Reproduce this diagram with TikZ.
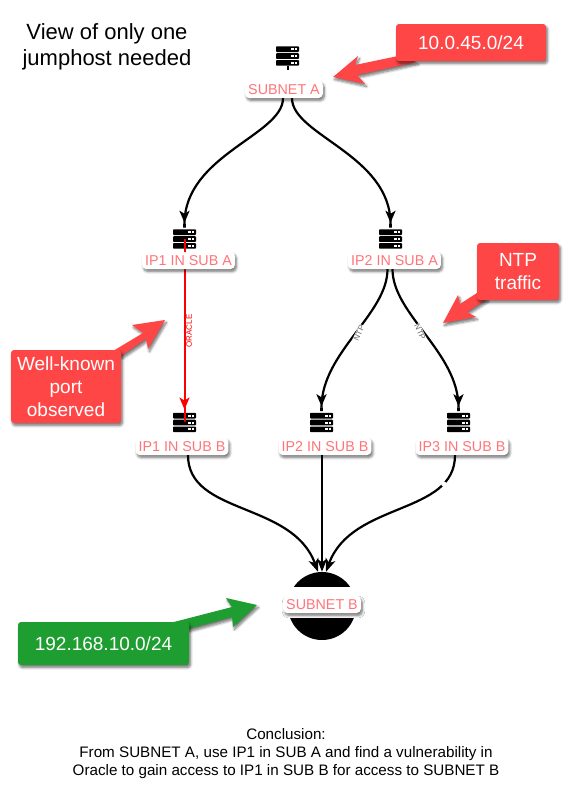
\documentclass[tikz,border=0pt]{standalone}
\usepackage{fontspec}
\setmainfont{Liberation Sans}
\usepackage{tikz}
\usetikzlibrary{arrows.meta,shadows.blur}
\definecolor{calloutred}{HTML}{FF4646}
\definecolor{calloutgreen}{HTML}{1E9E30}
\definecolor{labelpink}{HTML}{FF7478}
\definecolor{smallgray}{HTML}{666666}

\begin{document}
\begin{tikzpicture}[x=1pt,y=-1pt,
	softshadow/.style={blur shadow={shadow xshift=1.5pt,shadow yshift=-2.5pt,shadow blur radius=2.5pt,shadow blur steps=6,shadow opacity=55}},
	hostlabel/.style={fill=white,rounded corners=4pt,text=labelpink,inner xsep=3pt,inner ysep=3pt,font=\fontsize{14.3}{14}\selectfont,text height=10pt,text depth=1pt,softshadow},
	hosticon/.style={minimum width=23pt,minimum height=20pt,inner sep=0pt,
		path picture={
			\foreach \barpos in {-6.8,0,6.8}{
				\fill[black,rounded corners=.8pt] ([yshift=\barpos pt-2.8pt]path picture bounding box.west) rectangle ([yshift=\barpos pt+2.8pt]path picture bounding box.east);
				\fill[white] ([xshift=-8pt,yshift=\barpos pt-1pt]path picture bounding box.east) rectangle ([xshift=-5.5pt,yshift=\barpos pt+1pt]path picture bounding box.east);
				\fill[white] ([xshift=-4.5pt,yshift=\barpos pt-1pt]path picture bounding box.east) rectangle ([xshift=-2pt,yshift=\barpos pt+1pt]path picture bounding box.east);
			}
		}},
	flow/.style={draw=black,line width=2.2pt,-{Stealth[length=12pt,width=10pt,inset=3pt]Rectangle[length=6pt,width=2.2pt]}},
	flowend/.style={draw=black,line width=2.2pt,-{Stealth[length=13pt,width=10pt,inset=3.5pt]}},
	callout/.style={fill=#1,softshadow},
	calloutbox/.style={fill=#1,rounded corners=3pt,text=white,align=center,font=\fontsize{19}{22.8}\selectfont,inner sep=0pt,softshadow},
	portlabel/.style={font=\fontsize{8}{8}\selectfont,inner sep=.5pt}
]
	\useasboundingbox (0,0) rectangle (568,801);

	\node[align=center,font=\fontsize{22}{26}\selectfont] (viewnote) at (107,47) {View of only one\\jumphost needed};

	% hosts
	\foreach \hostname/\hostx/\hosty in {subA/287.5/56,ipOneA/184.5/239,ipTwoA/390.5/239,ipOneB/184.5/422.5,ipTwoB/321.5/422.5,ipThreeB/458.5/422.5}
		\node[hosticon] (\hostname) at (\hostx,\hosty) {};
	\draw[line width=2pt] (subA.south) -- +(0,4);
	\node[circle,fill=black,minimum size=68pt,inner sep=0pt] (subB) at (322,606) {};
	\fill[white] (270,587) rectangle (375,618);
	\draw[red,line width=2pt,-{Stealth[length=12pt,width=10pt,inset=3pt]Rectangle[length=13pt,width=2pt]}] (ipOneA.center) -- (ipOneB.center);

	% labels, placed by hand
	\node[hostlabel] (subAtxt) at (284,89.5) {SUBNET A};
	\node[hostlabel] (ipOneAtxt) at (188.5,260.5) {IP1 IN SUB A};
	\node[hostlabel] (ipTwoAtxt) at (394.5,260.5) {IP2 IN SUB A};
	\node[hostlabel] (ipOneBtxt) at (182,446.5) {IP1 IN SUB B};
	\node[hostlabel] (ipTwoBtxt) at (325,446.5) {IP2 IN SUB B};
	\node[hostlabel] (ipThreeBtxt) at (462,446.5) {IP3 IN SUB B};
	\node[hostlabel] (subBtxt) at (322,604.5) {SUBNET B};

	% connectors
	\draw[flow] ([xshift=-1pt]subAtxt.south) to[out=-90,in=90,out distance=37pt,in distance=74pt] (ipOneA.north);
	\draw[flow] ([xshift=8pt]subAtxt.south) to[out=-90,in=90,out distance=37pt,in distance=74pt] (ipTwoA.north);
	\draw[flow] ([xshift=-7pt]ipTwoAtxt.south) to[out=-90,in=90,out distance=45pt,in distance=60pt] (ipTwoB.north);
	\draw[flow] ([xshift=-2pt]ipTwoAtxt.south) to[out=-90,in=90,out distance=45pt,in distance=60pt] (ipThreeB.north);
	\draw[flowend] ([xshift=6pt]ipOneBtxt.south) to[out=-90,in=110,out distance=60pt,in distance=75pt] ([xshift=-4pt]subB.north);
	\draw[flowend] ([xshift=-3pt]ipTwoBtxt.south) -- (subB.north);
	\draw[flowend] ([xshift=-7pt]ipThreeBtxt.south) to[out=-90,in=70,out distance=60pt,in distance=75pt] ([xshift=4pt]subB.north);
	\fill[white] (443.8,484) circle (2.6);

	% edge labels
	\node[portlabel,text=red,rotate=90] (oracletxt) at (189,331) {ORACLE};
	\node[portlabel,text=smallgray,rotate=65,fill=white] (ntpleft) at (359,333) {NTP};
	\node[portlabel,text=smallgray,rotate=-65,fill=white] (ntpright) at (420,332) {NTP};

	% callouts
	\fill[callout=calloutred] (398,56) -- (355,65) -- (358,56) -- (333,77) -- (365,84) -- (357,75) -- (417,62) -- cycle;
	\node[calloutbox=calloutred,minimum width=150pt,minimum height=37pt] (subnetAnote) at (471,42.5) {10.0.45.0/24};
	\fill[callout=calloutred] (480,291) -- (460,304) -- (458,295) -- (443,323) -- (476,317) -- (467,312) -- (487,299) -- cycle;
	\node[calloutbox=calloutred,minimum width=82pt,minimum height=57pt] (ntpnote) at (518,271.5) {NTP\\traffic};
	\fill[callout=calloutred] (113,351) -- (143,333) -- (132,325) -- (165,320) -- (148,349) -- (146,339) -- (121,356) -- cycle;
	\node[calloutbox=calloutred,minimum width=110pt,minimum height=73pt] (portnote) at (66,386.5) {Well-known\\port\\observed};
	\fill[callout=calloutgreen] (170,623) -- (232,607) -- (226,598) -- (257,605) -- (233,627) -- (232,617) -- (188,629) -- cycle;
	\node[calloutbox=calloutgreen,minimum width=171pt,minimum height=43pt] (subnetBnote) at (103.5,643.5) {192.168.10.0/24};

	\node[align=center,font=\fontsize{15.2}{18}\selectfont] (conclusion) at (286,754) {Conclusion:\\From SUBNET A, use IP1 in SUB A and find a vulnerability in\\Oracle to gain access to IP1 in SUB B for access to SUBNET B};
\end{tikzpicture}
\end{document}
